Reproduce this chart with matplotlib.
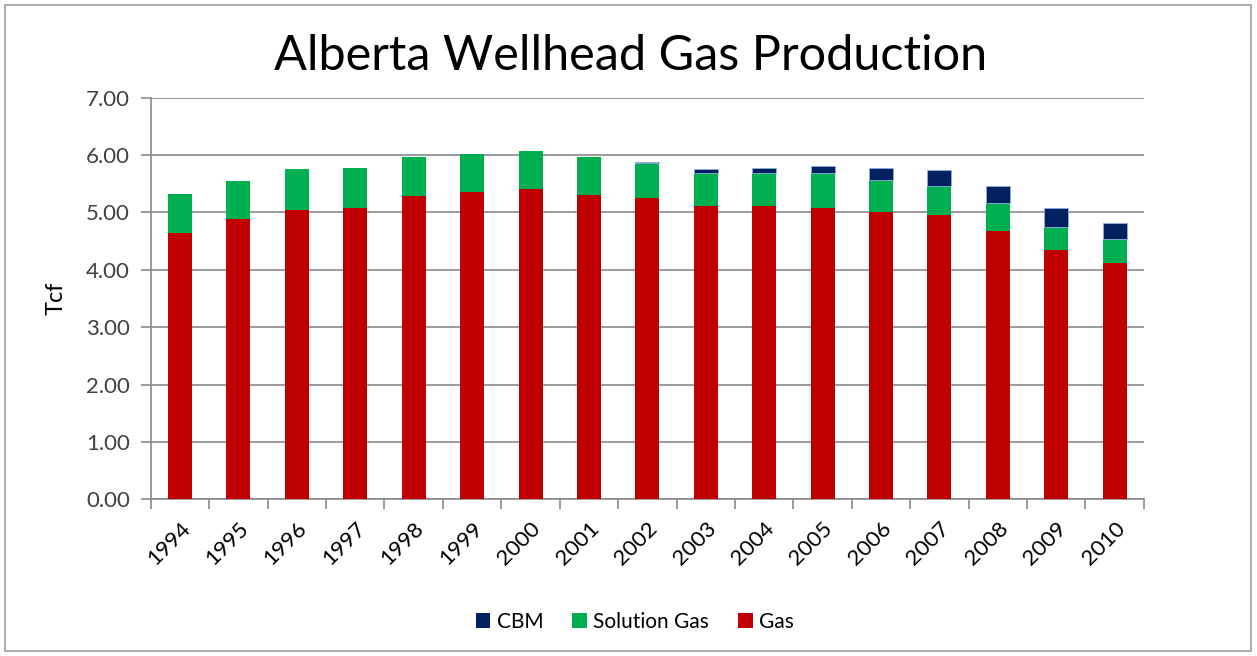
import matplotlib
matplotlib.use("Agg")
import matplotlib.pyplot as plt
import numpy as np
from matplotlib.patches import Rectangle

years = [str(y) for y in range(1994, 2011)]
gas = [4.64, 4.88, 5.04, 5.08, 5.28, 5.35, 5.41, 5.31, 5.25, 5.11, 5.11, 5.08, 5.01, 4.95, 4.68, 4.35, 4.11]
solution_gas = [0.68, 0.66, 0.71, 0.70, 0.68, 0.67, 0.67, 0.65, 0.61, 0.57, 0.58, 0.60, 0.55, 0.51, 0.48, 0.40, 0.43]
cbm = [0, 0, 0, 0, 0, 0, 0, 0, 0.02, 0.07, 0.09, 0.13, 0.21, 0.28, 0.30, 0.32, 0.28]

plt.rcParams['font.family'] = ['Lato', 'DejaVu Sans']

fig = plt.figure(figsize=(12.57, 6.56), dpi=100)
fig.patches.append(Rectangle((0.004, 0.008), 0.991, 0.985, transform=fig.transFigure,
                             fill=False, edgecolor='#a0a0a0', linewidth=1.2))
ax = fig.add_axes([0.120, 0.239, 0.790, 0.612])

x = np.arange(len(years))
w = 0.41
gas = np.array(gas)
sol = np.array(solution_gas)
cbm = np.array(cbm)
b_gas = ax.bar(x, gas, w, color='#C00000', label='Gas', zorder=3)
b_sol = ax.bar(x, sol, w, bottom=gas, color='#00B050', label='Solution Gas', zorder=3)
b_cbm = ax.bar(x, cbm, w, bottom=gas + sol, color='#002060', label='CBM', zorder=3,
               edgecolor=['#8fb0e0' if v > 0 else 'none' for v in cbm], linewidth=0.6)

ax.set_ylim(0, 7)
ax.set_xlim(-0.5, len(years) - 0.5)
ax.set_yticks(np.arange(0, 7.01, 1))
ax.set_yticklabels([f"{v:.2f}" for v in np.arange(0, 7.01, 1)], fontsize=16, color='#404040')
ax.yaxis.grid(True, color='#8a8a8a', linewidth=1.2, zorder=0)
ax.set_axisbelow(True)

ax.set_xticks(x)
ax.set_xticklabels(years, rotation=45, ha='right', rotation_mode='anchor', fontsize=16)
ax.tick_params(axis='x', which='major', length=0, pad=14)
ax.set_xticks(np.arange(-0.5, len(years), 1), minor=True)
ax.tick_params(axis='x', which='minor', length=7, color='#8a8a8a', width=1.2)
ax.tick_params(axis='y', length=7, color='#8a8a8a', width=1.2, pad=8)

for s in ['top', 'right']:
    ax.spines[s].set_visible(False)
for s in ['left', 'bottom']:
    ax.spines[s].set_color('#8a8a8a')
    ax.spines[s].set_linewidth(1.2)

ax.set_ylabel('Tcf', fontsize=17, labelpad=14)
fig.text(0.502, 0.915, 'Alberta Wellhead Gas Production', ha='center', va='center', fontsize=35)

fig.legend([b_cbm, b_sol, b_gas], ['CBM', 'Solution Gas', 'Gas'], loc='center',
           bbox_to_anchor=(0.505, 0.052), ncol=3, frameon=False, fontsize=15,
           handlelength=0.7, handleheight=0.7, handletextpad=0.3, columnspacing=1.4)

fig.savefig('out.png', dpi=100)
